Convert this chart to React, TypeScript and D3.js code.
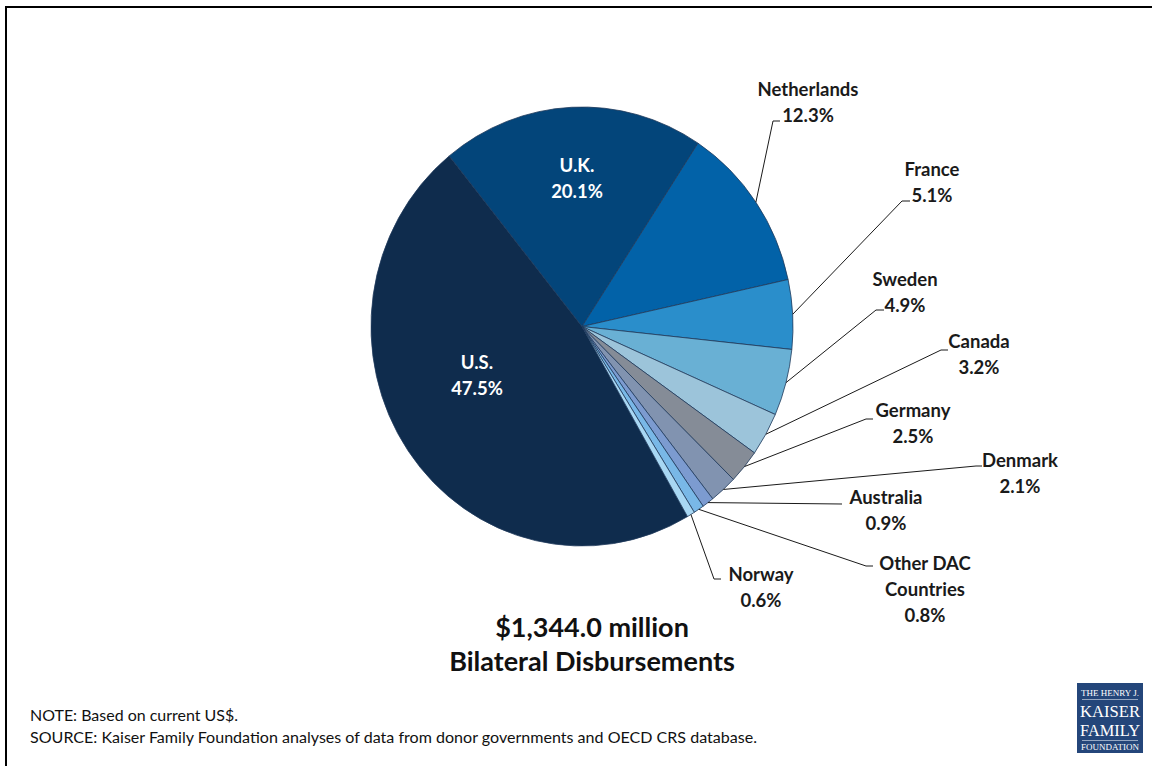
import React from "react";
import * as d3 from "d3";

const countries = ["U.S.", "U.K.", "Netherlands", "France", "Sweden", "Canada", "Germany", "Denmark", "Australia", "Other DAC Countries", "Norway"];
const shares = [47.5, 20.1, 12.3, 5.1, 4.9, 3.2, 2.5, 2.1, 0.9, 0.8, 0.6];
const sliceColors = ["#0f2c4d", "#03457a", "#0262a8", "#2a8ecb", "#69b0d4", "#9cc4da", "#858c97", "#8193b0", "#7c9bd0", "#79b8e7", "#a8d7f3"];
const labelNames: string[][] = [["U.S."], ["U.K."], ["Netherlands"], ["France"], ["Sweden"], ["Canada"], ["Germany"], ["Denmark"], ["Australia"], ["Other DAC", "Countries"], ["Norway"]];
const titleLines = ["$1,344.0 million", "Bilateral Disbursements"];
const noteText = "NOTE: Based on current US$.";
const sourceText = "SOURCE: Kaiser Family Foundation analyses of data from donor governments and OECD CRS database.";

// layout (label placement)
const insideLayout: Record<number, { x: number; y: number }> = {
  0: { x: 477, y: 369 },
  1: { x: 577, y: 172 },
};
const outsideLayout: Record<number, { x: number; y: number; ex: number; ey: number; tx: number }> = {
  2: { x: 808, y: 96, ex: 773, ey: 121, tx: 780 },
  3: { x: 932, y: 176, ex: 902, ey: 201, tx: 910 },
  4: { x: 905, y: 286, ex: 876, ey: 310, tx: 884 },
  5: { x: 979, y: 348, ex: 941, ey: 350, tx: 948 },
  6: { x: 913, y: 417, ex: 866, ey: 419, tx: 873 },
  7: { x: 1020, y: 467, ex: 976, ey: 466, tx: 982 },
  8: { x: 886, y: 504, ex: 842, ey: 504, tx: 842 },
  9: { x: 925, y: 570, ex: 866, ey: 566, tx: 873 },
  10: { x: 761, y: 581, ex: 714, ey: 579, tx: 721 },
};

const W = 1152, H = 766;
const cx = 582, cy = 326.5, rx = 211, ry = 219.5;
const ky = ry / rx;
const FONT = "Lato, 'Open Sans', sans-serif";

export default function App() {
  const pie = d3
    .pie<number>()
    .sort(null)
    .value((d) => d)
    .startAngle((150 * Math.PI) / 180)
    .endAngle((150 * Math.PI) / 180 + 2 * Math.PI);
  const arcs = pie(shares);
  const arc = d3.arc<d3.PieArcDatum<number>>().innerRadius(0).outerRadius(rx);
  const edgePt = (a: number): [number, number] => [cx + rx * Math.sin(a), cy - rx * Math.cos(a) * ky];
  const fmt = (v: number) => v.toFixed(1) + "%";

  return (
    <svg width={W} height={H} style={{ position: "absolute", left: 0, top: 0, background: "#fff" }} fontFamily={FONT}>
      <rect x={0} y={0} width={W} height={H} fill="#fff" />
      <line x1={5} y1={7} x2={W} y2={7} stroke="#000" strokeWidth={2} />
      <line x1={6} y1={6} x2={6} y2={H} stroke="#000" strokeWidth={2} />

      <g transform={`translate(${cx},${cy}) scale(1,${ky})`}>
        {arcs.map((a, i) => (
          <path
            key={i}
            d={arc(a) || ""}
            fill={sliceColors[i]}
            stroke="#1f3a5c"
            strokeWidth={0.8}
            vectorEffect="non-scaling-stroke"
            strokeLinejoin="round"
          />
        ))}
      </g>

      {arcs.map((a, i) => {
        const lay = outsideLayout[i];
        if (!lay) return null;
        const mid = (a.startAngle + a.endAngle) / 2;
        const [px, py] = edgePt(mid);
        return (
          <path
            key={"l" + i}
            d={`M${px},${py}L${lay.ex},${lay.ey}L${lay.tx},${lay.ey}`}
            fill="none"
            stroke="#1a1a1a"
            strokeWidth={1}
          />
        );
      })}

      {arcs.map((a, i) => {
        const ins = insideLayout[i];
        if (ins) {
          return (
            <text key={"t" + i} x={ins.x} y={ins.y} textAnchor="middle" fill="#fff" fontWeight={700} fontSize={18.5}>
              {[...labelNames[i], fmt(shares[i])].map((s, j) => (
                <tspan key={j} x={ins.x} y={ins.y + j * 26}>
                  {s}
                </tspan>
              ))}
            </text>
          );
        }
        const lay = outsideLayout[i];
        return (
          <text key={"t" + i} x={lay.x} y={lay.y} textAnchor="middle" fill="#1a1a1a" fontWeight={700} fontSize={18.5}>
            {[...labelNames[i], fmt(shares[i])].map((s, j) => (
              <tspan key={j} x={lay.x} y={lay.y + j * 26}>
                {s}
              </tspan>
            ))}
          </text>
        );
      })}

      <text x={592} y={637} textAnchor="middle" fontWeight={700} fontSize={27} fill="#111">
        {titleLines[0]}
      </text>
      <text x={592} y={671} textAnchor="middle" fontWeight={700} fontSize={27} fill="#111">
        {titleLines[1]}
      </text>

      <text x={30} y={721} fontSize={15} fill="#111" textLength={208} lengthAdjust="spacingAndGlyphs">
        {noteText}
      </text>
      <text x={30} y={743} fontSize={15} fill="#111" textLength={727} lengthAdjust="spacingAndGlyphs">
        {sourceText}
      </text>

      <g fontFamily="'Liberation Serif', 'DejaVu Serif', serif" fill="#fff" textAnchor="middle">
        <rect x={1077} y={683} width={66} height={70} fill="#24467a" />
        <text x={1110} y={696} fontSize={8.5} textLength={58} lengthAdjust="spacingAndGlyphs">THE HENRY J.</text>
        <line x1={1082} y1={699.5} x2={1138} y2={699.5} stroke="#c8d3e3" strokeWidth={0.7} />
        <text x={1110} y={717} fontSize={16.5} textLength={60} lengthAdjust="spacingAndGlyphs">KAISER</text>
        <text x={1110} y={736} fontSize={16.5} textLength={60} lengthAdjust="spacingAndGlyphs">FAMILY</text>
        <line x1={1082} y1={740.5} x2={1138} y2={740.5} stroke="#c8d3e3" strokeWidth={0.7} />
        <text x={1110} y={750} fontSize={8} textLength={58} lengthAdjust="spacingAndGlyphs">FOUNDATION</text>
      </g>
    </svg>
  );
}
